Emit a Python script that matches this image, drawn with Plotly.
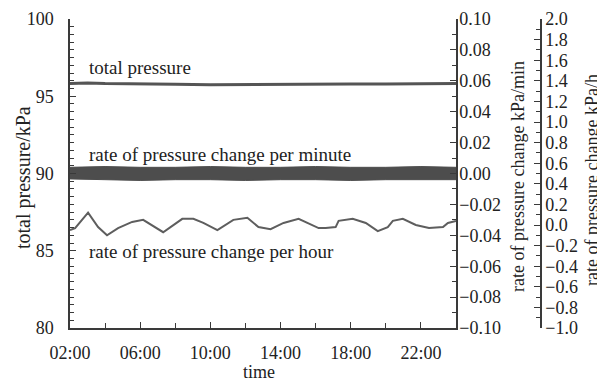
import plotly.graph_objects as go

# ---- data (hours of day; 24 = 00:00 next day) ----
total_hours = [2, 3, 4, 5, 6, 8, 10, 12, 14, 16, 18, 20, 22, 24]
total_pressure = [95.83, 95.86, 95.82, 95.80, 95.78, 95.77, 95.75, 95.77, 95.78, 95.78, 95.79, 95.80, 95.80, 95.82]

minute_hours = [2, 4, 6, 8, 10, 12, 14, 16, 18, 20, 22, 24]
minute_upper = [0.004, 0.0045, 0.004, 0.004, 0.0045, 0.004, 0.004, 0.0045, 0.004, 0.004, 0.0045, 0.004]
minute_lower = [-0.0035, -0.004, -0.0045, -0.004, -0.004, -0.0045, -0.004, -0.004, -0.0045, -0.004, -0.004, -0.004]

hour_hours = [2.0, 2.29, 3.03, 3.6, 4.11, 4.74, 5.54, 6.17, 7.31, 8.0, 8.4, 9.03, 9.6, 10.4,
              11.31, 12.11, 12.74, 13.43, 14.17, 15.03, 16.17, 16.57, 17.14, 17.31, 18.11,
              18.86, 19.54, 20.11, 20.4, 20.97, 21.71, 22.46, 23.26, 23.54, 24.0]
hour_rate = [-0.05, -0.03, 0.12, -0.02, -0.10, -0.03, 0.03, 0.05, -0.07, 0.01, 0.06, 0.06, 0.02, -0.05,
             0.05, 0.07, -0.02, -0.04, 0.02, 0.06, -0.03, -0.03, -0.02, 0.04, 0.06,
             0.02, -0.06, -0.02, 0.04, 0.06, 0.0, -0.03, -0.02, 0.02, 0.04]

x_tickvals = [2, 6, 10, 14, 18, 22]
x_ticktext = ["02:00", "06:00", "10:00", "14:00", "18:00", "22:00"]

labels = ["total pressure", "rate of pressure change per minute", "rate of pressure change per hour"]
axis_titles = ["time", "total pressure/kPa", "rate of pressure change kPa/min", "rate of pressure change kPa/h"]

FONT = "Liberation Serif, Times New Roman, serif"
AX = "#3a3a3a"
TXT = "#222222"
FS = 18
FA = 19

fig = go.Figure()
fig.add_trace(go.Scatter(x=total_hours, y=total_pressure, mode="lines",
                         line=dict(color="#555555", width=3), yaxis="y", showlegend=False))
fig.add_trace(go.Scatter(x=minute_hours, y=minute_upper, mode="lines",
                         line=dict(color="#4d4d4d", width=1), yaxis="y2", showlegend=False))
fig.add_trace(go.Scatter(x=minute_hours, y=minute_lower, mode="lines", fill="tonexty",
                         fillcolor="#4d4d4d",
                         line=dict(color="#4d4d4d", width=1), yaxis="y2", showlegend=False))
fig.add_trace(go.Scatter(x=hour_hours, y=hour_rate, mode="lines",
                         line=dict(color="#5e5e5e", width=2), yaxis="y3", showlegend=False))

# page body has an 8px margin, so work in figure coords = screen - 8
W, H = 597, 376
ML, MT, MB, MR = 62, 11, 56, 12
pw = W - ML - MR
ph = H - MT - MB
xdom_end = (448 - ML) / pw
y3_pos = (533 - ML) / pw


def px(fx):
    return (fx - ML) / pw


def py(fy):
    return (MT + ph - fy) / ph


common = dict(showline=True, linecolor=AX, linewidth=1.5, ticks="inside", ticklen=6,
              tickcolor=AX, tickwidth=1.2, showgrid=False, zeroline=False, automargin=False,
              tickfont=dict(family=FONT, size=FS, color=TXT))

fig.update_layout(
    width=W, height=H,
    margin=dict(l=ML, r=MR, t=MT, b=MB, autoexpand=False),
    paper_bgcolor="white", plot_bgcolor="white",
    font=dict(family=FONT, size=FS, color=TXT),
    xaxis=dict(domain=[0, xdom_end], range=[2, 24], tickvals=x_tickvals, ticktext=x_ticktext,
               minor=dict(tick0=0, dtick=2, ticks="inside", ticklen=5, tickcolor=AX),
               ticklabelstandoff=8,
               **common),
    yaxis=dict(range=[80, 100], dtick=5, tick0=80,
               minor=dict(dtick=0.5, ticks="inside", ticklen=4, tickcolor=AX),
               ticklabelstandoff=11,
               **common),
    yaxis2=dict(range=[-0.1, 0.1], dtick=0.02, tick0=0, tickformat=".2f", overlaying="y",
                side="right", anchor="x",
                minor=dict(dtick=0.01, ticks="inside", ticklen=4, tickcolor=AX),
                ticklabelstandoff=-2,
                **common),
    yaxis3=dict(range=[-1, 2], dtick=0.2, tick0=0, tickformat=".1f", overlaying="y",
                side="right", anchor="free", position=y3_pos,
                minor=dict(dtick=0.1, ticks="inside", ticklen=4, tickcolor=AX),
                ticklabelstandoff=0,
                **common),
)

# in-plot labels
for lab, yv in zip(labels, [96.83, 91.2, 84.98]):
    fig.add_annotation(x=2.97, y=yv, xref="x", yref="y", text=lab, showarrow=False,
                       xanchor="left", yanchor="middle", font=dict(family=FONT, size=FA, color=TXT))

# axis titles
fig.add_annotation(x=px(251), y=py(376), xref="paper", yref="paper", text=axis_titles[0],
                   showarrow=False, xanchor="center", yanchor="bottom",
                   font=dict(family=FONT, size=FS, color=TXT))
fig.add_annotation(x=px(15), y=py(170), xref="paper", yref="paper", text=axis_titles[1],
                   showarrow=False, textangle=-90, xanchor="center", yanchor="middle",
                   font=dict(family=FONT, size=20, color=TXT))
fig.add_annotation(x=px(510), y=py(169), xref="paper", yref="paper", text=axis_titles[2],
                   showarrow=False, textangle=-90, xanchor="center", yanchor="middle",
                   font=dict(family=FONT, size=FS, color=TXT))
fig.add_annotation(x=px(584), y=py(172), xref="paper", yref="paper", text=axis_titles[3],
                   showarrow=False, textangle=-90, xanchor="center", yanchor="middle",
                   font=dict(family=FONT, size=FS, color=TXT))

fig.write_html("out.html")
